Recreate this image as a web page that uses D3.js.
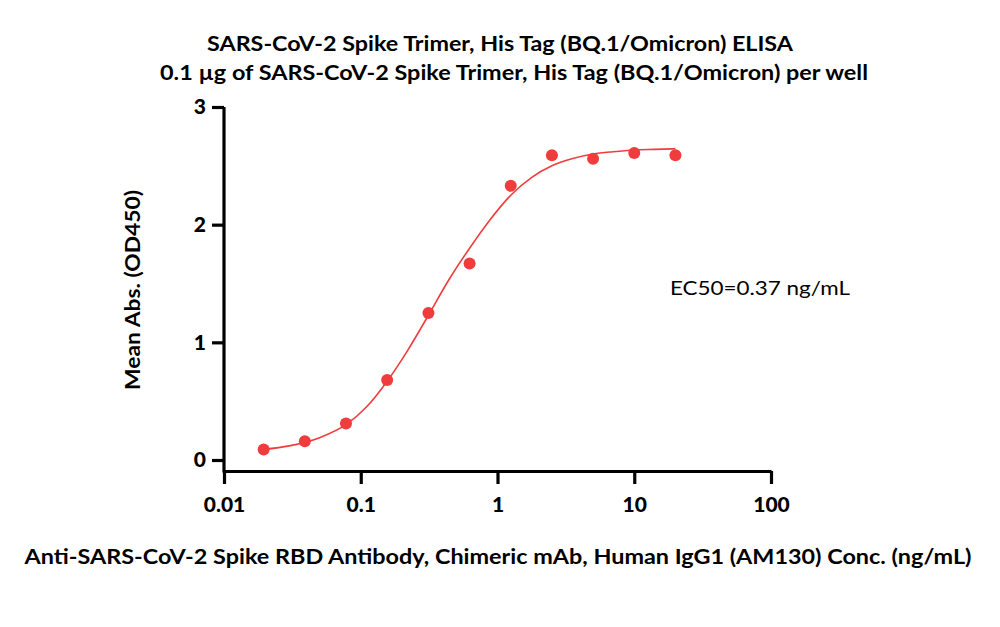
<!DOCTYPE html>
<html>
<head>
<meta charset="utf-8">
<script src="https://cdn.jsdelivr.net/npm/d3@7"></script>
<style>
  body { margin: 0; background: #fff; }
  svg { display: block; font-family: Lato, "Open Sans", sans-serif; }
</style>
</head>
<body>
<div id="chart"></div>
<script>
var svgWidth = 1000;
var svgHeight = 627;

// measured points (ng/mL, OD450)
var concs = [0.0195, 0.039, 0.078, 0.156, 0.3125, 0.625, 1.25, 2.5, 5, 10, 20];
var od450 = [0.09, 0.16, 0.31, 0.68, 1.25, 1.67, 2.33, 2.59, 2.56, 2.61, 2.59];

// fitted curve
var fitX = [0.0195, 0.03, 0.05, 0.078, 0.11, 0.156, 0.22, 0.3125, 0.44, 0.625, 0.88, 1.25, 1.77, 2.5, 3.5, 5, 7, 10, 14, 20];
var fitY = [0.09, 0.12, 0.19, 0.30, 0.45, 0.67, 0.93, 1.23, 1.53, 1.80, 2.04, 2.25, 2.40, 2.50, 2.56, 2.60, 2.62, 2.635, 2.64, 2.645];

var xTicks = [0.01, 0.1, 1, 10, 100];
var xTickLabels = ["0.01", "0.1", "1", "10", "100"];
var yTicks = [0, 1, 2, 3];

var titleLines = [
  "SARS-CoV-2 Spike Trimer, His Tag (BQ.1/Omicron) ELISA",
  "0.1 \u00b5g of SARS-CoV-2 Spike Trimer, His Tag (BQ.1/Omicron) per well"
];
var xTitle = "Anti-SARS-CoV-2 Spike RBD Antibody, Chimeric mAb, Human IgG1 (AM130) Conc. (ng/mL)";
var yTitle = "Mean Abs. (OD450)";
var ec50Label = "EC50=0.37 ng/mL";

var red = "#f03c3c";

var svg = d3.select("#chart")
  .append("svg")
  .attr("width", svgWidth)
  .attr("height", svgHeight);

// scales
var xScale = d3.scaleLog()
  .domain([0.01, 100])
  .range([224, 771]);

var yScale = d3.scaleLinear()
  .domain([0, 3])
  .range([460, 107]);

var axisY = 471;

// titles
svg.append("text")
  .attr("x", 500).attr("y", 51)
  .attr("text-anchor", "middle")
  .attr("font-size", 20).attr("font-weight", "bold")
  .attr("textLength", 586).attr("lengthAdjust", "spacingAndGlyphs")
  .text(titleLines[0]);

svg.append("text")
  .attr("x", 514).attr("y", 80)
  .attr("text-anchor", "middle")
  .attr("font-size", 20).attr("font-weight", "bold")
  .attr("textLength", 708).attr("lengthAdjust", "spacingAndGlyphs")
  .text(titleLines[1]);

// x axis
var bottomAxis = d3.axisBottom(xScale)
  .tickValues(xTicks)
  .tickFormat((d, i) => xTickLabels[i])
  .tickSizeInner(13)
  .tickSizeOuter(0)
  .tickPadding(13);

var gx = svg.append("g")
  .attr("transform", `translate(0, ${axisY})`)
  .call(bottomAxis);

gx.select(".domain").attr("stroke-width", 3.2).attr("stroke", "#000");
gx.selectAll(".tick line").attr("stroke-width", 3.2).attr("stroke", "#000");
gx.selectAll(".tick text")
  .attr("font-size", 21).attr("font-weight", "900")
  .attr("font-family", "Lato, sans-serif").attr("fill", "#000");

// y axis
var leftAxis = d3.axisLeft(yScale)
  .tickValues(yTicks)
  .tickFormat(d3.format("d"))
  .tickSizeInner(12)
  .tickSizeOuter(0)
  .tickPadding(6);

var gy = svg.append("g")
  .attr("transform", "translate(224, 0)")
  .call(leftAxis);

gy.select(".domain")
  .attr("d", `M0,${yScale(3)}V${axisY + 1.6}`)
  .attr("stroke-width", 3.2).attr("stroke", "#000");
gy.selectAll(".tick line").attr("stroke-width", 3.2).attr("stroke", "#000");
gy.selectAll(".tick text")
  .attr("font-size", 21).attr("font-weight", "900")
  .attr("font-family", "Lato, sans-serif").attr("fill", "#000");

// axis titles
svg.append("text")
  .attr("x", 498).attr("y", 564)
  .attr("text-anchor", "middle")
  .attr("font-size", 20).attr("font-weight", "bold")
  .attr("textLength", 947).attr("lengthAdjust", "spacingAndGlyphs")
  .text(xTitle);

svg.append("text")
  .attr("transform", "translate(140, 290) rotate(-90)")
  .attr("text-anchor", "middle")
  .attr("font-size", 20).attr("font-weight", "bold")
  .attr("textLength", 200).attr("lengthAdjust", "spacingAndGlyphs")
  .text(yTitle);

// fitted curve
var fitData = fitX.map((x, i) => ({x: x, y: fitY[i]}));
var line = d3.line()
  .x(d => xScale(d.x))
  .y(d => yScale(d.y))
  .curve(d3.curveMonotoneX);

svg.append("path")
  .datum(fitData)
  .attr("d", line)
  .attr("fill", "none")
  .attr("stroke", red)
  .attr("stroke-width", 1.6);

// points
var pts = concs.map((c, i) => ({x: c, y: od450[i]}));
svg.selectAll("circle")
  .data(pts)
  .enter()
  .append("circle")
  .attr("cx", d => xScale(d.x))
  .attr("cy", d => yScale(d.y))
  .attr("r", 6)
  .attr("fill", red);

// EC50 label
svg.append("text")
  .attr("x", 670).attr("y", 295)
  .attr("font-size", 20)
  .attr("textLength", 180).attr("lengthAdjust", "spacingAndGlyphs")
  .text(ec50Label);
</script>
</body>
</html>
